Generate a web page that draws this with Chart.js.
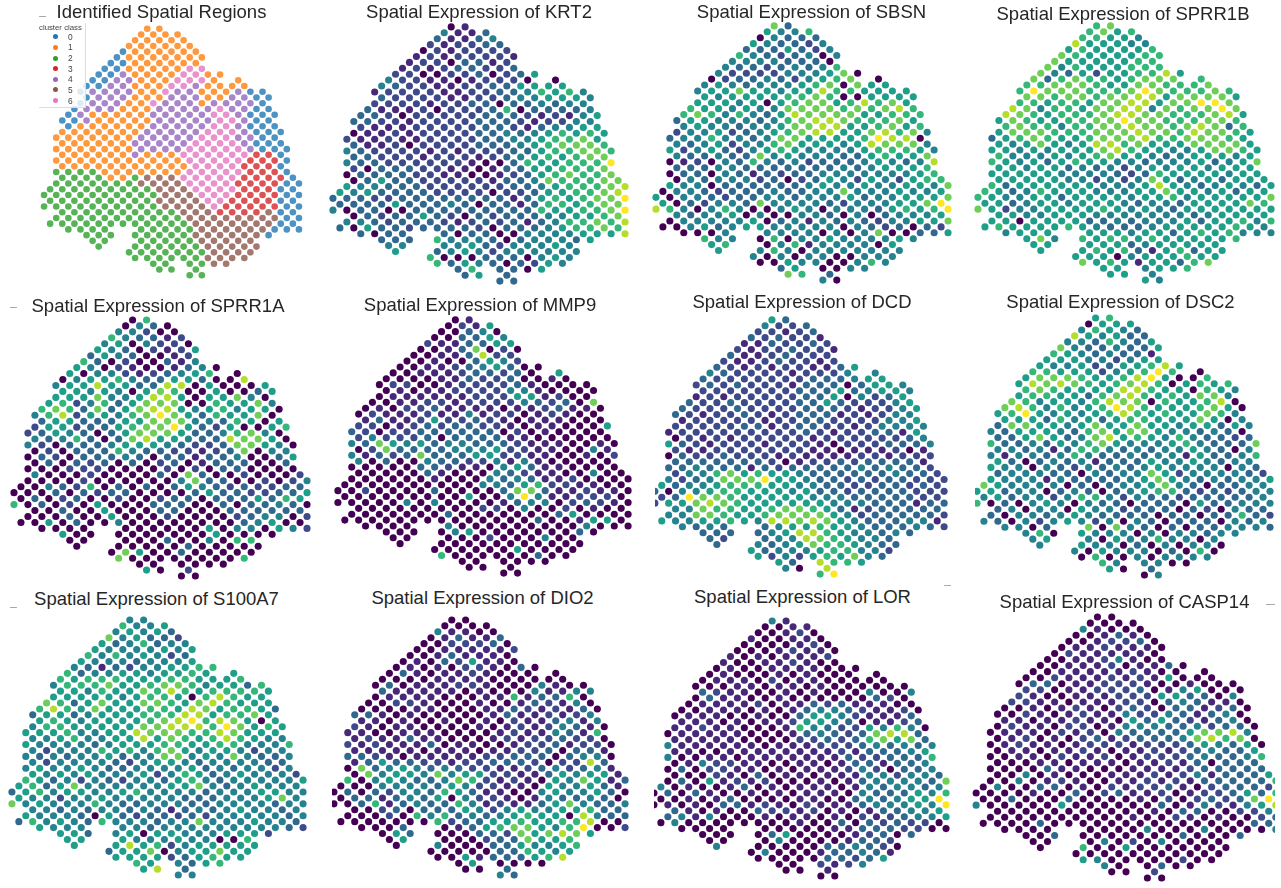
<!DOCTYPE html>
<html>
<head>
<meta charset="utf-8">
<title>Spatial expression</title>
<script src="https://cdn.jsdelivr.net/npm/chart.js@4"></script>
<style>
  html, body { margin: 0; padding: 0; background: #fff; }
  body { position: relative; width: 1281px; height: 888px; overflow: hidden; font-family: "Liberation Sans", Arial, sans-serif; }
  canvas { position: absolute; filter: blur(0.3px); }
  .title { position: absolute; transform: translate(-50%, -50%); white-space: nowrap; color: #262626; font-size: 18.5px; }
  .dash { position: absolute; background: #aaa; height: 1px; }
  #legend { position: absolute; left: 39px; top: 23px; width: 46px; height: 84px; background: rgba(255,255,255,.82); border-right: 1px solid #ddd; border-bottom: 1px solid #ddd; overflow: hidden; color: #444; }
  #legend .head { position: absolute; left: 0; top: 0; font-size: 7.8px; white-space: nowrap; }
  #legend .dot { position: absolute; width: 5px; height: 5px; border-radius: 50%; }
  #legend .lab { position: absolute; font-size: 8.4px; }
</style>
</head>
<body>
<script>
// array grid of the spots: each row is a list of [first, last] columns, every second column is used
const rowSpans = [
  [[17,19]],[[16,22]],[[15,23]],[[14,24]],[[13,25]],[[12,26]],[[11,25]],[[10,26]],
  [[9,27],[29,29]],[[8,28],[32,32]],[[7,27],[29,33]],[[6,36]],[[7,37]],[[6,36]],[[5,37]],
  [[4,38]],[[3,37]],[[4,38]],[[3,39]],[[2,38]],[[3,39]],[[2,40]],[[3,39]],[[2,40]],[[3,39]],
  [[2,40]],[[3,41]],[[2,42]],[[1,41]],[[0,42]],[[1,41]],[[0,42]],[[3,41]],[[2,42]],[[1,41]],
  [[4,10],[16,42]],[[7,11],[15,37]],[[8,10],[16,34]],[[9,9],[15,35]],[[14,34]],[[15,33]],
  [[18,20],[24,30]],[[19,21],[25,25]],[[24,26]]
]

// cluster class of each spot, row by row
const regions = ["11","1111","11111","111111","0111111","01111111","00111111","001111166","00411116611","004411166611","00441116641111","0444411644111400","0444111444114400","0444116444144440","04441114444464400","041111144444664000","004111114444466400","011111144444664000","1111111444446664000","1111111444446664400","1111114444466664000","11111114444666664000","1111114111666666330","11111111111666663330","1111111111166663330","22221111111666663330","22221125556666633330","222222255556666333300","222222222555666633300","2222222222555666333300","222222222555566333300","2222222222555563333300","22222222225553333500","222222222225555555500","222222222222555555500","222222222555555000","222222225555550","222222255555","222222255555","22222225555","2222225555","222255","222","22"]

const krt2 = ["01","4113","31134","212233","0212222","12122221","12203312","121233223","22002230235","422110122200","43221122335555","1222211223346564","3222211223445554","2222122330334344","31112022236033334","332022222333212145","332212222333212244","211122222332134455","0112122223343456565","2112112222334456675","3112022223334567776","43222212122233566776","3322212221234565677","43322222210036556669","2033322110133556667","03333221100123567667","03533222221334766677","544333222222334566678","545333322220223556678","3332233333333135656779","333353334303313665677","4033003333333336556679","03233532032333445567","443233321232313466768","305332333320333456676","303330330044445558","333644430344435","444453244454","534542444444","60003330454","6354303254","363305","353","33"]
const sbsn = ["73","5446","04333","543324","3335324","64323404","44443330","433234346","42222444570","023343245670","45434445670755","4557554558665555","5455556676005555","5554505677568675","65545447777676786","676464358777755666","355444346788766675","454434457788556756","2445234567885578674","3446443477555569880","4345244675554587774","52453245654444566654","4334337454443356557","01204364342333454348","3334433333334345556","03304313233444444456","04344423023542542566","544033333345445445547","044323334334474445445","5044323344344453445557","503244374444324445579","8640464004540444356569","43445040044304034445","044444503414343244557","004534554444404323032","000444440404700335","644060445444454","560461444405","546404444444","40404400444","0054400464","350044","763","40"]
const sprr1b = ["67","6756","66554","855544","5655556","76555566","75555566","746555666","74352556685","736766567776","66777655776667","6977766679766676","7767767788577775","6656657788577997","87466577884767797","876566678877666785","576556677977666776","676646677877678736","5777666777877687765","3567655677786677765","5457545886755577775","55454555786554457765","6444545675543455545","65453565544344453457","5545534342454554555","55555444432365555455","55555442424753453555","635555554445854345435","653465554445575545355","6544553555545564555557","553455455543443555576","7524455556545435555555","55445554444444345555","550555533434445355646","565555654333455555654","455555545535656444","574656656555556","555553455555","556563156355","55504555655","7565155367","554556","554","54"]
const sprr1a = ["06","0430","44200","643312","4504220","54302125","35430012","630200314","54021001340","504421234560","04556433553008","4558553388050005","5545405760050035","5557445885055740","56246357770065574","676373578854564550","468255467975365570","355333557774436505","2552335677953250056","2354303577753346740","4346303785543387750","42033345554322377540","0203336433221237044","03203334303313340035","0303230302301333003","00022200002020330000","40002000030730020002","000020000004733002024","004326030303543232233","0003032330000353322335","030230020023303335365","6030205000333003033430","00300500033000333333","000300500020000234402","005030040000000034500","000000000050440542","500000000050000","000003004066","000000300000","07500300000","7000000006","000000","502","00"]
const mmp9 = ["01","0215","00340","003354","2113355","00137020","00113822","001003542","00112345300","001112332305","00001132230010","0220012222310000","0101122224410000","0111111222551200","00112212222432307","010223111101123110","021112114122012100","131125223210111000","2201232332210110005","3202233333302010000","2422230333311000000","43754534433321110010","0273333444522110041","41323733355221100102","4030043322414100000","00000332110453110000","00000310004321100400","000000100043431120000","000000000044356221100","0020000300003773112110","000000000500494112220","0000040400001344023210","00000000022040020100","000000030000000350000","000000000000003001550","000040000000004000","000045000000030","000002000400","000000000000","00000050000","6000000300","000000","000","00"]
const dcd = ["53","4223","22123","323221","1132232","21223221","31123222","211232212","32121221135","432222122244","32222222333455","2323222133303554","2222222333534554","1212222233504235","32232222335322245","322232222333212245","321223212333121244","122222122332222445","2222233123322124444","1222222222321223315","0212122222122222234","53212221222102223334","2112222222110111201","03223222121111221222","3333333201223233331","33433313233333434332","24467565543333334332","423477795543323233222","534456665544332233232","3044566555453323333222","239776555554443333322","2557876555555444333133","44766556776531233333","447765567777542333332","544556548878754333441","434334556554333432","333345886544343","323448765443","343457665433","53444566442","5242565743","538665","408","69"]
const dsc2 = ["56","0555","46543","854533","4436435","74334335","65434331","555442455","54452355685","665552456960","57776556895006","5878765678605656","6765555886550654","5665536786565774","76455468770655680","786464569865556750","569545456865655764","555364535665557504","3775545755755455354","4355543675775443430","3357534785654643323","63343546754445643337","4434136643434454304","41443464334344153346","5303434133354454344","54404324343454444043","34443304344752444432","544414333345754343445","754444030344574303344","5534403430345663232344","453442466424332333334","6030454043303330533444","34044054423330320433","304434543333033033632","430424542404303330434","440370743030334443","460544404044344","454054464404","454403040440","40544403060","0600404444","644400","503","04"]
const s100a7 = ["44","6445","45453","745332","5346344","54444545","64645423","544434445","43132445566","634455455655","65666555665556","4666755677645536","5546557686566665","5555545665068655","76357557765786555","686575556658756653","355345556668856675","565455556789687505","4665555577888697565","5556445587776687555","4456445585765686544","54444345556655664446","4244465646754554244","43434453447745474334","4244443245543444433","45445433444453434424","54545444524653454442","653424324435643444445","563574444445574345444","3564554456444434445544","544244544444333444574","7454446433444334444344","44343443431343454434","544430532332324444434","364543644434474445443","544444344444444432","553450554445552","555444544006","558562455555","35570455755","5555235655","654356","583","44"]
const dio2 = ["00","0000","41100","013113","0022230","00111112","00131110","010325110","01010221030","031011210000","00001111000000","0301112210004100","3111110100041144","0111100011613360","00221000100132140","000011000113212130","331010000013112124","110100100102113414","2101100001012124310","1100111000012114316","1211311000121223220","21211130110012231220","1111101110112230331","33210111112233303440","1353322122333202283","07345434322112342341","07455474552211354551","604543347621210547513","000444435422110544531","0303244365311004544530","033134350422101433430","0036134336412113574334","00230333542454455633","000206463434565508433","000000062335565566800","000301356775469002","053000332757875","050002337556","040003354456","00000336545","0051333568","050000","003","43"]
const lor = ["41","0011","00120","100110","0000120","00012110","10101112","100112100","01001111000","010001010000","01110201100000","0001101101000000","3211001010004004","0311001000000320","01111201132311100","001110101344321120","011100100355421113","111010112554301123","1121100016432254640","0111110001343237883","1111100002232367573","41111110111222343434","1100111111112133345","40011011111113223336","0142211001101331334","03022110101112420334","00021030110111442443","030512120001013444437","401001301011101434434","0303100101011104333546","001013000011003434559","0101033121021113444549","31010032212010133445","341400010110102123445","040000000010030323220","000000000113332200","000035000012303","000400001332","400000334320","04000133431","0000033235","002124","001","00"]
const casp14 = ["00","0000","41000","001310","0012230","01121110","02111110","001124100","00111201130","001111121000","00211121215000","0330112221001000","2201122230145000","2100111222553304","22110111220343110","001012102320331230","002101211422431340","110112110535321340","0211022014443342330","0111021204333357784","0120102312333478670","01211012221222354350","0110112101121234335","00110211201222343346","0001101110112130333","00003110001111233333","00401000111212413335","004012100112121333336","040033010212231023332","0000100302311201223536","003000300001020232379","4000005000000301421458","00000000000103300224","000000000010021010023","000030000000000000033","000000004000400004","003000000030003","000402040000","060050000000","00000000000","5400000200","400300","002","00"]

const clusterNames = ['0', '1', '2', '3', '4', '5', '6']
const clusterColors = ['rgba(31,119,180,.8)', 'rgba(255,127,14,.8)', 'rgba(44,160,44,.8)', 'rgba(214,39,40,.8)', 'rgba(148,103,189,.8)', 'rgba(140,86,75,.8)', 'rgba(227,119,194,.8)']
const viridis = ['#440154', '#482878', '#3e4a89', '#31688e', '#26828e', '#1f9e89', '#35b779', '#6ece58', '#b5de2b', '#fde725']

// where each panel sits: x of columns 0 and 42, y of rows 0 and 43, title centre
const panels = [
  {title: 'Identified Spatial Regions', rows: regions, colors: clusterColors, x0: 43.7, x1: 298.3, y0: 28.3, y1: 275, tx: 161.5, ty: 11.7, r: 3.3},
  {title: 'Spatial Expression of KRT2', rows: krt2, colors: viridis, x0: 333.3, x1: 625, y0: 27.3, y1: 281, tx: 479, ty: 12},
  {title: 'Spatial Expression of SBSN', rows: sbsn, colors: viridis, x0: 656.3, x1: 948.3, y0: 26, y1: 280, tx: 811.5, ty: 12},
  {title: 'Spatial Expression of SPRR1B', rows: sprr1b, colors: viridis, x0: 978.3, x1: 1271, y0: 26, y1: 280, tx: 1123, ty: 14},
  {title: 'Spatial Expression of SPRR1A', rows: sprr1a, colors: viridis, x0: 14.3, x1: 307.3, y0: 320, y1: 575.7, tx: 158, ty: 305.7},
  {title: 'Spatial Expression of MMP9', rows: mmp9, colors: viridis, x0: 337.7, x1: 628.3, y0: 320, y1: 573.3, tx: 480, ty: 305},
  {title: 'Spatial Expression of DCD', rows: dcd, colors: viridis, x0: 655, x1: 944.7, y0: 320, y1: 574, tx: 802, ty: 301.7, clipL: 655.7},
  {title: 'Spatial Expression of DSC2', rows: dsc2, colors: viridis, x0: 977.3, x1: 1270, y0: 318.3, y1: 575, tx: 1120.5, ty: 301.7, clipL: 975.7},
  {title: 'Spatial Expression of S100A7', rows: s100a7, colors: viridis, x0: 12.3, x1: 303.7, y0: 620, y1: 875, tx: 156.5, ty: 599},
  {title: 'Spatial Expression of DIO2', rows: dio2, colors: viridis, x0: 334.3, x1: 625, y0: 620, y1: 875, tx: 482.5, ty: 598, clipL: 332.7},
  {title: 'Spatial Expression of LOR', rows: lor, colors: viridis, x0: 654.3, x1: 946.7, y0: 620.7, y1: 876, tx: 802.5, ty: 597.3, clipL: 655},
  {title: 'Spatial Expression of CASP14', rows: casp14, colors: viridis, x0: 976.3, x1: 1276, y0: 617.3, y1: 877.7, tx: 1124.5, ty: 602.3, clipR: 1275}
]

const spotsFor = (rows) => {
  const pts = []
  rowSpans.forEach((spans, r) => {
    let k = 0
    spans.forEach(([from, to]) => {
      for (let c = from; c <= to; c += 2) {
        const ch = rows[r][k++]
        if (ch !== undefined) pts.push({x: c, y: r, v: Number(ch)})
      }
    })
  })
  return pts
}

const addPanel = (p) => {
  const dx = (p.x1 - p.x0) / 42
  const dy = (p.y1 - p.y0) / 43
  const canvas = document.createElement('canvas')
  const left = p.x0 - dx
  const top = p.y0 - dy
  const w = Math.round(dx * 44)
  const h = Math.round(dy * 45)
  canvas.width = w
  canvas.height = h
  canvas.style.left = left + 'px'
  canvas.style.top = top + 'px'
  canvas.style.width = w + 'px'
  canvas.style.height = h + 'px'
  const clipL = p.clipL ? Math.max(0, p.clipL - left) : 0
  const clipR = p.clipR ? Math.max(0, left + w - p.clipR) : 0
  if (clipL || clipR) canvas.style.clipPath = `inset(0 ${clipR}px 0 ${clipL}px)`
  document.body.appendChild(canvas)

  new Chart(canvas, {
    type: 'scatter',
    data: {
      datasets: [{
        data: spotsFor(p.rows),
        pointRadius: p.r || 3.55,
        pointBorderWidth: 0,
        clip: false,
        pointBackgroundColor: (ctx) => p.colors[ctx.raw ? ctx.raw.v : 0]
      }]
    },
    options: {
      responsive: false,
      animation: false,
      devicePixelRatio: 1,
      layout: {padding: 0, autoPadding: false},
      scales: {
        x: {type: 'linear', min: -1, max: 43, display: false},
        y: {type: 'linear', min: -1, max: 44, reverse: true, display: false}
      },
      plugins: {legend: {display: false}, tooltip: {enabled: false}}
    }
  })

  const t = document.createElement('div')
  t.className = 'title'
  t.textContent = p.title
  t.style.left = p.tx + 'px'
  t.style.top = p.ty + 'px'
  document.body.appendChild(t)
}

panels.forEach(addPanel)

// cluster legend sits over the first panel
const legend = document.createElement('div')
legend.id = 'legend'
legend.innerHTML = '<div class="head">cluster class</div>'
clusterNames.forEach((name, i) => {
  const top = 11.2 + i * 10.65
  legend.innerHTML += `<div class="dot" style="left:14px;top:${top}px;background:${clusterColors[i].replace('.8)', '1)')}"></div>` +
    `<div class="lab" style="left:29px;top:${top - 2.5}px">${name}</div>`
})
document.body.appendChild(legend)

// stray marks left in the screenshot
const dashes = [[39, 15.5, 7], [10, 307, 7], [10, 607, 7], [1266, 604, 9], [944, 585, 7]]
dashes.forEach(([x, y, w]) => {
  const d = document.createElement('div')
  d.className = 'dash'
  d.style.left = x + 'px'
  d.style.top = y + 'px'
  d.style.width = w + 'px'
  document.body.appendChild(d)
})
</script>
</body>
</html>
